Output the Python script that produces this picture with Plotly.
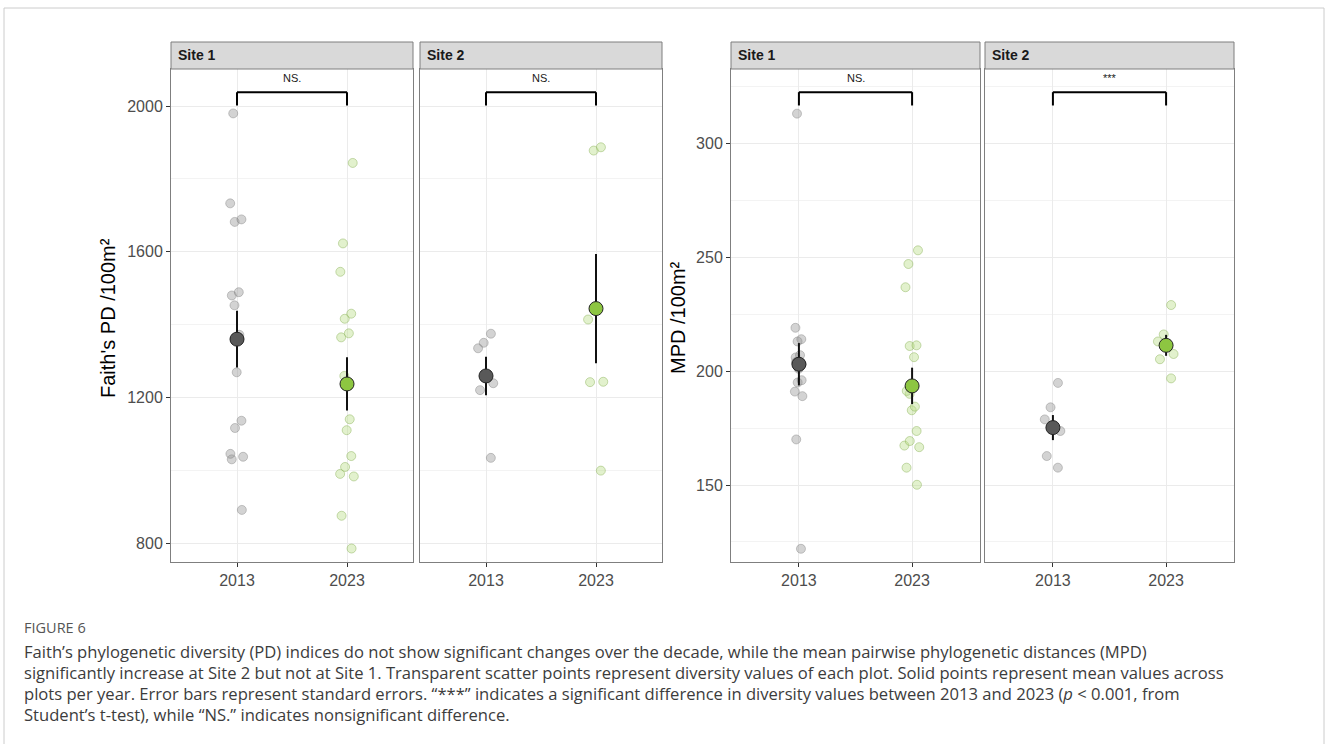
import plotly.graph_objects as go

# ---------------- data ----------------
years = ["2013", "2023"]
site_labels = ["Site 1", "Site 2", "Site 1", "Site 2"]
sig_labels = ["NS.", "NS.", "NS.", "***"]

# Faith's PD per plot
pd_s1_2013 = [1980, 1733, 1689, 1682, 1489, 1480, 1453, 1372, 1269, 1136, 1116, 1045, 1037, 1030, 891]
pd_s1_2023 = [1844, 1623, 1545, 1430, 1416, 1376, 1365, 1259, 1140, 1110, 1039, 1009, 990, 983, 875, 785]
pd_s2_2013 = [1375, 1350, 1335, 1239, 1220, 1034]
pd_s2_2023 = [1887, 1878, 1414, 1242, 1243, 999]

# MPD per plot
mpd_s1_2013 = [313, 219, 214, 213, 207, 206, 204, 203, 201, 196, 195, 191, 189, 170, 122]
mpd_s1_2023 = [253.0, 247.0, 236.8, 211.3, 211.0, 206.1, 191.3, 190.0, 184.4, 182.8, 173.7, 169.3, 167.3, 166.6, 157.6, 150.1]
mpd_s2_2013 = [194.8, 184.1, 178.8, 173.7, 162.7, 157.6]
mpd_s2_2023 = [229.0, 216.1, 213.0, 207.5, 205.2, 196.8]

# means and standard errors (2013, 2023)
pd_mean_s1 = [1360, 1237]
pd_se_s1 = [78, 73]
pd_mean_s2 = [1259, 1444]
pd_se_s2 = [53, 150]
mpd_mean_s1 = [203.0, 193.5]
mpd_se_s1 = [9.3, 8.0]
mpd_mean_s2 = [175.2, 211.3]
mpd_se_s2 = [5.5, 4.6]

# ---------------- layout geometry ----------------
W, H = 1328, 744
px = lambda v: v / W
py = lambda v: 1 - v / H

panel_x = [(171, 413), (420, 662), (731, 980), (985, 1234)]
panel_top, panel_bot = 69, 562
strip_top = 42
ydom = [py(panel_bot), py(panel_top)]

pd_range = [748, 2102]
mpd_range = [116.2, 332.6]

col_pt = ["rgba(150,150,150,0.42)", "rgba(185,222,135,0.42)"]
col_pt_line = ["rgba(110,110,110,0.35)", "rgba(135,175,85,0.45)"]
col_mean = ["#595959", "#8DC641"]

TICKFONT = dict(family="Liberation Sans, Arial, sans-serif", size=16, color="#4D4D4D")

fig = go.Figure()

panels = [
    (pd_s1_2013, pd_s1_2023, pd_mean_s1, pd_se_s1),
    (pd_s2_2013, pd_s2_2023, pd_mean_s2, pd_se_s2),
    (mpd_s1_2013, mpd_s1_2023, mpd_mean_s1, mpd_se_s1),
    (mpd_s2_2013, mpd_s2_2023, mpd_mean_s2, mpd_se_s2),
]

for i, (v13, v23, means, ses) in enumerate(panels):
    ax = "" if i == 0 else str(i + 1)
    xa, ya = "x" + ax, "y" + ax
    for j, vals in enumerate([v13, v23]):
        fig.add_trace(go.Box(
            x=[j + 1] * len(vals), y=vals, xaxis=xa, yaxis=ya,
            boxpoints="all", jitter=1, pointpos=0, width=0.17,
            fillcolor="rgba(0,0,0,0)", line=dict(width=0, color="rgba(0,0,0,0)"),
            marker=dict(size=9, color=col_pt[j], line=dict(width=1, color=col_pt_line[j])),
            showlegend=False, hoverinfo="y",
        ))
    fig.add_trace(go.Scatter(
        x=[1, 2], y=means, xaxis=xa, yaxis=ya, mode="markers",
        marker=dict(size=14, color=col_mean, line=dict(width=1, color="#222222")),
        error_y=dict(type="data", array=ses, visible=True, width=0, thickness=2, color="#111111"),
        showlegend=False,
    ))

axis_common = dict(showline=True, mirror=True, linecolor="#7F7F7F", linewidth=1,
                   gridcolor="#EBEBEB", gridwidth=1, zeroline=False)

layout = dict(width=W, height=H, margin=dict(l=0, r=0, t=0, b=0),
              plot_bgcolor="white", paper_bgcolor="white", showlegend=False,
              boxmode="overlay")

for i, (x0, x1) in enumerate(panel_x):
    ax = "" if i == 0 else str(i + 1)
    layout["xaxis" + ax] = dict(
        domain=[px(x0), px(x1)], anchor="y" + ax, range=[0.4, 2.6],
        tickmode="array", tickvals=[1, 2], ticktext=years,
        ticks="outside", ticklen=4, tickcolor="#333333", tickfont=TICKFONT,
        **axis_common)
    is_pd = i < 2
    yd = dict(domain=ydom, anchor="x" + ax, range=pd_range if is_pd else mpd_range,
              tick0=0, dtick=400 if is_pd else 50,
              minor=dict(dtick=200 if is_pd else 25, showgrid=True, gridcolor="#F3F3F3", gridwidth=0.8),
              **axis_common)
    if i in (0, 2):
        yd.update(ticks="outside", ticklen=4, tickcolor="#333333", tickfont=TICKFONT)
    else:
        yd.update(showticklabels=False, ticks="", matches="y" if i == 1 else "y3")
    layout["yaxis" + ax] = yd

shapes = []
annotations = []

# strips
for i, (x0, x1) in enumerate(panel_x):
    shapes.append(dict(type="rect", xref="paper", yref="paper",
                       x0=px(x0), x1=px(x1), y0=py(panel_top), y1=py(strip_top),
                       fillcolor="#D9D9D9", line=dict(color="#7F7F7F", width=1)))
    annotations.append(dict(xref="paper", yref="paper", x=px(x0 + 5), y=py((panel_top + strip_top) / 2),
                            text="<b>%s</b>" % site_labels[i], showarrow=False,
                            xanchor="left", yanchor="middle",
                            font=dict(family="Liberation Sans, Arial, sans-serif", size=14, color="#1A1A1A")))

# significance brackets (drawn in axis-domain coordinates)
for i in range(4):
    ax = "" if i == 0 else str(i + 1)
    xr, yr = "x" + ax, "y" + ax + " domain"
    br = dict(color="black", width=2)
    shapes.append(dict(type="line", xref=xr, yref=yr, x0=1, x1=2, y0=0.953, y1=0.953, line=br))
    shapes.append(dict(type="line", xref=xr, yref=yr, x0=1, x1=1, y0=0.926, y1=0.953, line=br))
    shapes.append(dict(type="line", xref=xr, yref=yr, x0=2, x1=2, y0=0.926, y1=0.953, line=br))
    annotations.append(dict(xref=xr, yref=yr, x=1.5, y=0.982, text=sig_labels[i], showarrow=False,
                            xanchor="center", yanchor="middle",
                            font=dict(family="Liberation Sans, Arial, sans-serif", size=11, color="#1A1A1A")))

# y-axis titles
annotations.append(dict(xref="paper", yref="paper", x=px(108), y=py(318), text="Faith's PD /100m²",
                        textangle=-90, showarrow=False, xanchor="center", yanchor="middle",
                        font=dict(family="Liberation Sans, Arial, sans-serif", size=20, color="black")))
annotations.append(dict(xref="paper", yref="paper", x=px(678), y=py(318), text="MPD /100m²",
                        textangle=-90, showarrow=False, xanchor="center", yanchor="middle",
                        font=dict(family="Liberation Sans, Arial, sans-serif", size=20, color="black")))

# outer frame (open at bottom)
frame = dict(color="#CCCCCC", width=1)
shapes.append(dict(type="line", xref="paper", yref="paper", x0=px(4), x1=px(1324), y0=py(8), y1=py(8), line=frame))
shapes.append(dict(type="line", xref="paper", yref="paper", x0=px(4), x1=px(4), y0=py(8), y1=-0.05, line=frame))
shapes.append(dict(type="line", xref="paper", yref="paper", x0=px(1324), x1=px(1324), y0=py(8), y1=-0.05, line=frame))

# caption
CAPFONT = dict(family="Open Sans, Lato, sans-serif", size=16.6, color="#3C3C3C")
annotations.append(dict(xref="paper", yref="paper", x=px(22), y=py(627), text="FIGURE 6",
                        showarrow=False, xanchor="left", yanchor="middle",
                        font=dict(family="Open Sans, Lato, sans-serif", size=14.5, color="#555555")))
caption_lines = [
    "Faith’s phylogenetic diversity (PD) indices do not show significant changes over the decade, while the mean pairwise phylogenetic distances (MPD)",
    "significantly increase at Site 2 but not at Site 1. Transparent scatter points represent diversity values of each plot. Solid points represent mean values across",
    "plots per year. Error bars represent standard errors. “***” indicates a significant difference in diversity values between 2013 and 2023 (<i>p</i> &lt; 0.001, from",
    "Student’s t-test), while “NS.” indicates nonsignificant difference.",
]
for k, line in enumerate(caption_lines):
    annotations.append(dict(xref="paper", yref="paper", x=px(22), y=py(651 + 21 * k), text=line,
                            showarrow=False, xanchor="left", yanchor="middle", font=CAPFONT))

layout["shapes"] = shapes
layout["annotations"] = annotations
fig.update_layout(**layout)

fig.write_html("out.html", config={"displayModeBar": False},
               post_script="document.body.style.margin='0px';document.body.style.overflow='hidden';")
